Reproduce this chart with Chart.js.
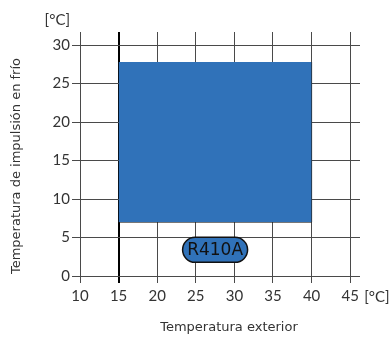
<!DOCTYPE html>
<html lang="es">
<head>
    <meta charset="UTF-8">
    <title>Temperatura de impulsión en frío</title>
    <script src="https://cdn.jsdelivr.net/npm/chart.js"></script>
    <style>
        html, body { margin: 0; padding: 0; background: #fff; }
        #wrap { width: 392px; height: 338px; position: relative; }
    </style>
</head>
<body>
    <div id="wrap"><canvas id="envChart"></canvas></div>
    <script>
        // datos del gráfico
        const xTicks = [10, 15, 20, 25, 30, 35, 40, 45];
        const yTicks = [0, 5, 10, 15, 20, 25, 30];
        const envX = [15, 40];
        const envTop = [27.8, 27.8];
        const envBottom = [7, 7];
        const refrigerante = 'R410A';
        const labelPos = { x: 27.5, y: 3.4 };
        const unidad = '[°C]';
        const tituloY = 'Temperatura de impulsión en frío';
        const tituloX = 'Temperatura exterior';

        const azul = '#3072b9';
        const fuente = 'Lato, "Open Sans", sans-serif';
        const fuenteAncha = '"DejaVu Sans", sans-serif';

        function puntos(xs, ys) {
            return xs.map((x, i) => ({ x: x, y: ys[i] }));
        }

        // textos extra: unidades, títulos y etiqueta del refrigerante
        const textosPlugin = {
            id: 'textos',
            afterDatasetsDraw(chart) {
                const ctx = chart.ctx;
                const area = chart.chartArea;
                const sx = chart.scales.x;
                const sy = chart.scales.y;
                ctx.save();
                ctx.fillStyle = '#333';
                ctx.font = '15px ' + fuente;
                ctx.textBaseline = 'middle';
                ctx.textAlign = 'right';
                ctx.fillText(unidad, sy.right - 10, area.top - 12);
                ctx.textAlign = 'left';
                ctx.fillText(unidad, sx.getPixelForValue(45) + 14, area.bottom + 21);

                // título del eje X
                ctx.textAlign = 'center';
                ctx.font = '13px ' + fuenteAncha;
                ctx.fillText(tituloX, area.left + (area.right - area.left) / 2 + 9, chart.height - 10);

                // título del eje Y
                ctx.save();
                ctx.translate(17, 166);
                ctx.rotate(-Math.PI / 2);
                ctx.fillText(tituloY, 0, 0);
                ctx.restore();

                // etiqueta R410A
                const cx = sx.getPixelForValue(labelPos.x);
                const cy = sy.getPixelForValue(labelPos.y);
                const w = 65, h = 25, r = h / 2;
                ctx.beginPath();
                ctx.roundRect(cx - w / 2, cy - h / 2, w, h, r);
                ctx.fillStyle = azul;
                ctx.fill();
                ctx.lineWidth = 1.5;
                ctx.strokeStyle = '#111';
                ctx.stroke();
                ctx.fillStyle = '#111';
                ctx.font = '17px ' + fuenteAncha;
                ctx.fillText(refrigerante, cx, cy + 1);
                ctx.restore();
            }
        };

        function gridColor(c) {
            return c.tick && c.tick.value === 15 ? '#000' : '#4a4a4a';
        }
        function gridWidth(c) {
            return c.tick && c.tick.value === 15 ? 2 : 1;
        }

        new Chart(document.getElementById('envChart').getContext('2d'), {
            type: 'scatter',
            data: {
                datasets: [
                    {
                        data: puntos(envX, envTop),
                        showLine: true,
                        borderWidth: 0,
                        borderColor: azul,
                        backgroundColor: azul,
                        pointRadius: 0,
                        fill: '+1'
                    },
                    {
                        data: puntos(envX, envBottom),
                        showLine: true,
                        borderWidth: 1,
                        borderColor: '#222',
                        pointRadius: 0,
                        fill: false
                    },
                    {
                        data: puntos([envX[1], envX[1]], [envBottom[1], envTop[1]]),
                        showLine: true,
                        borderWidth: 1,
                        borderColor: '#222',
                        pointRadius: 0,
                        fill: false
                    }
                ]
            },
            options: {
                responsive: true,
                maintainAspectRatio: false,
                animation: false,
                layout: { padding: { top: 32, right: 32, left: 0, bottom: 0 } },
                plugins: {
                    legend: { display: false },
                    tooltip: { enabled: false }
                },
                scales: {
                    x: {
                        type: 'linear',
                        min: 10,
                        max: 46.27,
                        afterBuildTicks: s => { s.ticks = xTicks.map(v => ({ value: v })); },
                        afterFit: s => { s.height = 62; },
                        border: { display: false },
                        grid: { color: gridColor, lineWidth: gridWidth, tickLength: 7 },
                        ticks: { color: '#333', font: { size: 15, family: fuente }, padding: 4, maxRotation: 0 }
                    },
                    y: {
                        type: 'linear',
                        min: 0,
                        max: 31.7,
                        afterBuildTicks: s => { s.ticks = yTicks.map(v => ({ value: v })); },
                        afterFit: s => { s.width = 80; },
                        border: { display: false },
                        grid: { color: '#4a4a4a', lineWidth: 1, tickLength: 8 },
                        ticks: { color: '#333', font: { size: 15, family: fuente }, padding: 2 }
                    }
                }
            },
            plugins: [textosPlugin]
        });
    </script>
</body>
</html>
